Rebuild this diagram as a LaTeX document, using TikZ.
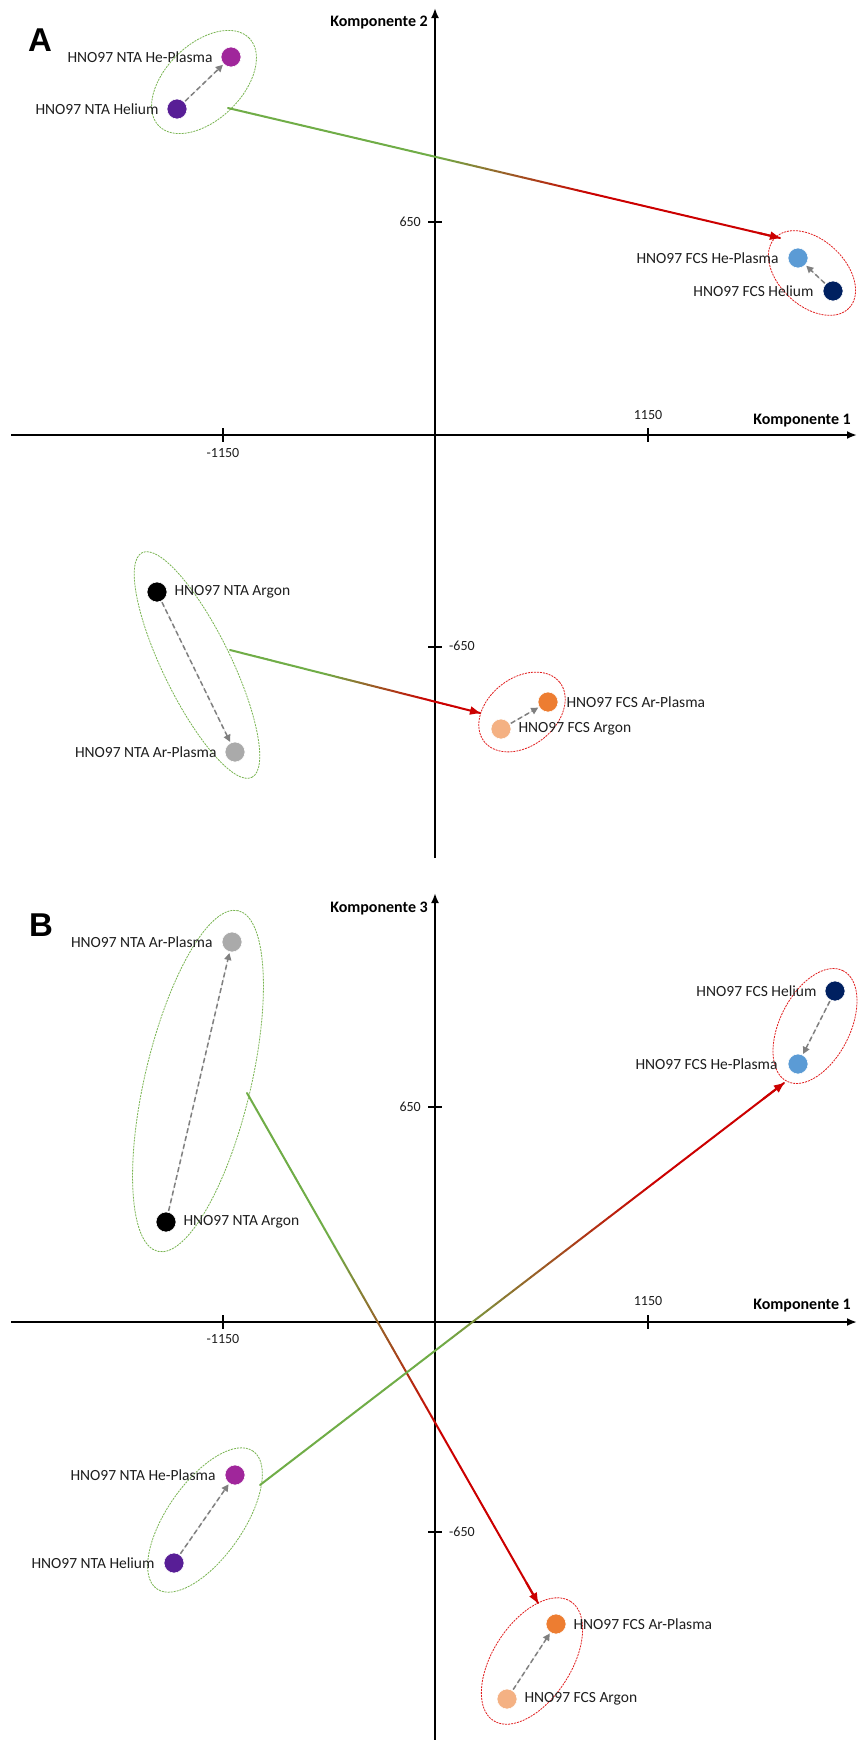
\documentclass[tikz,border=0pt]{standalone}
\usepackage{fontspec}
\setmainfont{Carlito}
\newfontfamily\panelfont{Liberation Sans}
\usetikzlibrary{calc,arrows.meta,shapes.geometric,positioning}
\definecolor{gline}{RGB}{112,173,71}
\definecolor{rline}{RGB}{204,0,0}
\definecolor{rdash}{RGB}{225,30,30}
\definecolor{gdash}{RGB}{120,180,80}
\definecolor{labelgray}{RGB}{30,30,30}
\definecolor{shiftgray}{RGB}{127,127,127}
\definecolor{cNHePl}{RGB}{160,38,155}
\definecolor{cNHe}{RGB}{88,30,150}
\definecolor{cFHePl}{RGB}{91,155,213}
\definecolor{cFHe}{RGB}{0,32,96}
\definecolor{cNAr}{RGB}{0,0,0}
\definecolor{cNArPl}{RGB}{170,170,170}
\definecolor{cFArPl}{RGB}{237,125,49}
\definecolor{cFAr}{RGB}{244,177,131}
\tikzset{
  sample/.style={circle, inner sep=0pt, minimum size=20pt, draw=white, line width=0.6pt},
  lbl/.style={font=\fontsize{15.5}{18}\selectfont, text=labelgray, inner sep=0pt},
  ticklbl/.style={font=\fontsize{14}{16}\selectfont, text=labelgray, inner sep=0pt},
  axlbl/.style={font=\fontsize{16}{18}\selectfont\bfseries, inner sep=0pt},
  panel/.style={font=\fontsize{33}{35}\selectfont\panelfont\bfseries, inner sep=0pt},
  axisline/.style={line width=2.2pt, -{Latex[length=10pt,width=8pt]}},
  tickmark/.style={line width=2.2pt},
  grp/.style={ellipse, line width=0.8pt, dash pattern=on 2pt off 1pt, inner sep=0pt},
  grpg/.style={grp, draw=gdash},
  grpr/.style={grp, draw=rdash},
  shiftarrow/.style={draw=shiftgray, line width=1.5pt, dash pattern=on 5pt off 3pt,
     -{Triangle[length=7pt,width=7pt]}, shorten <=1pt, shorten >=1pt, fill=shiftgray},
  gradseg/.style={line width=2pt, line cap=round},
  gradhead/.style={draw=rline, line width=2pt, -{Triangle[length=10pt,width=8pt]}, fill=rline}
}
\newcommand{\gradarrow}[4]{%
  \foreach \i in {1,...,60}{%
    \pgfmathsetmacro{\ta}{(\i-1)/60}%
    \pgfmathsetmacro{\tb}{\i/60}%
    \pgfmathsetmacro{\pp}{max(0,min(100,((\ta+\tb)/2-#3)/(#4-#3)*100))}%
    \draw[gradseg, rline!\pp!gline] ($(#1)!\ta!(#2)$) -- ($(#1)!\tb!(#2)$);
  }
  \draw[gradhead] ($(#1)!0.96!(#2)$) -- (#2);
}
\begin{document}
\begin{tikzpicture}[x=1pt,y=-1pt]
\fill[white] (0,0) rectangle (857,1740);
\useasboundingbox (0,0) rectangle (857,1740);

% ================= Panel A =================
\node[panel] (pa) at (40,40) {A};
\coordinate (axl) at (11,435);
\coordinate (axr) at (857,435);
\coordinate (ayb) at (435,858);
\coordinate (ayt) at (435,8);
\draw[axisline] (axl) -- (axr);
\draw[axisline] (ayb) -- (ayt);
\draw[tickmark] (223,428) -- (223,442);
\draw[tickmark] (648,428) -- (648,442);
\draw[tickmark] (428,222) -- (442,222);
\draw[tickmark] (428,647) -- (442,647);
\node[axlbl, anchor=east] (ak2) at (428,23) {Komponente 2};
\node[axlbl, anchor=east] (ak1) at (851,421) {Komponente 1};
\node[ticklbl, anchor=east] (at650) at (421,222) {650};
\node[ticklbl, anchor=west] (atm650) at (449,646) {-650};
\node[ticklbl] (atm1150) at (223,453) {-1150};
\node[ticklbl] (at1150) at (648,415) {1150};

\node[grpg, minimum width=126pt, minimum height=76pt, rotate=44] (ag1) at (204,82) {};
\node[grpr, minimum width=102pt, minimum height=66pt, rotate=-43] (ag2) at (812,273) {};
\node[grpg, minimum width=250pt, minimum height=68pt, rotate=-64] (ag3) at (197,665) {};
\node[grpr, minimum width=96pt, minimum height=68pt, rotate=38] (ag4) at (522,712) {};

\node[sample, fill=cNHePl] (ahp) at (231,57) {};
\node[sample, fill=cNHe] (ah) at (177,109) {};
\node[sample, fill=cFHePl] (afhp) at (798,258) {};
\node[sample, fill=cFHe] (afh) at (833,291) {};
\node[sample, fill=cNAr] (aar) at (157,592) {};
\node[sample, fill=cNArPl] (aarp) at (235,752) {};
\node[sample, fill=cFArPl] (afarp) at (548,702) {};
\node[sample, fill=cFAr] (afar) at (501,729) {};

\node[lbl, left=8pt of ahp] (lahp) {HNO97 NTA He-Plasma};
\node[lbl, left=8pt of ah] (lah) {HNO97 NTA Helium};
\node[lbl, left=9pt of afhp] (lafhp) {HNO97 FCS He-Plasma};
\node[lbl, left=9pt of afh] (lafh) {HNO97 FCS Helium};
\node[lbl, right=7pt of aar] (laar) {HNO97 NTA Argon};
\node[lbl, left=8pt of aarp] (laarp) {HNO97 NTA Ar-Plasma};
\node[lbl, right=8pt of afarp] (lafarp) {HNO97 FCS Ar-Plasma};
\node[lbl, right=7pt of afar] (lafar) {HNO97 FCS Argon};

\draw[shiftarrow] (ah) -- (ahp);
\draw[shiftarrow] (afh) -- (afhp);
\draw[shiftarrow] (aar) -- (aarp);
\draw[shiftarrow] (afar) -- (afarp);

\coordinate (ags1) at (228,108);
\coordinate (age1) at (780,238);
\coordinate (ags2) at (230,650);
\coordinate (age2) at (480,713);
\gradarrow{ags1}{age1}{0.38}{0.66}
\gradarrow{ags2}{age2}{0.38}{0.8}

% ================= Panel B =================
\node[panel] (pb) at (41,925) {B};
\coordinate (bxl) at (11,1322);
\coordinate (bxr) at (857,1322);
\coordinate (byb) at (435,1740);
\coordinate (byt) at (435,893);
\draw[axisline] (bxl) -- (bxr);
\draw[axisline] (byb) -- (byt);
\draw[tickmark] (223,1315) -- (223,1329);
\draw[tickmark] (648,1315) -- (648,1329);
\draw[tickmark] (428,1107) -- (442,1107);
\draw[tickmark] (428,1532) -- (442,1532);
\node[axlbl, anchor=east] (bk3) at (428,908) {Komponente 3};
\node[axlbl, anchor=east] (bk1) at (851,1306) {Komponente 1};
\node[ticklbl, anchor=east] (bt650) at (421,1107) {650};
\node[ticklbl, anchor=west] (btm650) at (449,1532) {-650};
\node[ticklbl] (btm1150) at (223,1339) {-1150};
\node[ticklbl] (bt1150) at (648,1301) {1150};

\node[grpg, minimum width=350pt, minimum height=106pt, rotate=76.7] (bg1) at (198,1081) {};
\node[grpr, minimum width=124pt, minimum height=70pt, rotate=63] (bg2) at (815,1026) {};
\node[grpg, minimum width=168pt, minimum height=76pt, rotate=55] (bg3) at (205,1520) {};
\node[grpr, minimum width=142pt, minimum height=78pt, rotate=57] (bg4) at (532,1661) {};

\node[sample, fill=cNArPl] (barp) at (232,942) {};
\node[sample, fill=cNAr] (bar) at (166,1222) {};
\node[sample, fill=cFHe] (bfh) at (835,991) {};
\node[sample, fill=cFHePl] (bfhp) at (798,1064) {};
\node[sample, fill=cNHePl] (bhp) at (235,1475) {};
\node[sample, fill=cNHe] (bh) at (174,1563) {};
\node[sample, fill=cFArPl] (bfarp) at (556,1624) {};
\node[sample, fill=cFAr] (bfar) at (507,1699) {};

\node[lbl, left=9pt of barp] (lbarp) {HNO97 NTA Ar-Plasma};
\node[lbl, right=7pt of bar] (lbar) {HNO97 NTA Argon};
\node[lbl, left=8pt of bfh] (lbfh) {HNO97 FCS Helium};
\node[lbl, left=10pt of bfhp] (lbfhp) {HNO97 FCS He-Plasma};
\node[lbl, left=9pt of bhp] (lbhp) {HNO97 NTA He-Plasma};
\node[lbl, left=9pt of bh] (lbh) {HNO97 NTA Helium};
\node[lbl, right=7pt of bfarp] (lbfarp) {HNO97 FCS Ar-Plasma};
\node[lbl, right=7pt of bfar] (lbfar) {HNO97 FCS Argon};

\draw[shiftarrow] (bar) -- (barp);
\draw[shiftarrow] (bfh) -- (bfhp);
\draw[shiftarrow] (bh) -- (bhp);
\draw[shiftarrow] (bfar) -- (bfarp);

\coordinate (bgs1) at (247,1093);
\coordinate (bge1) at (538,1603);
\coordinate (bgs2) at (260,1485);
\coordinate (bge2) at (784,1083);
\gradarrow{bgs1}{bge1}{0.3}{0.66}
\gradarrow{bgs2}{bge2}{0.35}{0.75}
\end{tikzpicture}
\end{document}
